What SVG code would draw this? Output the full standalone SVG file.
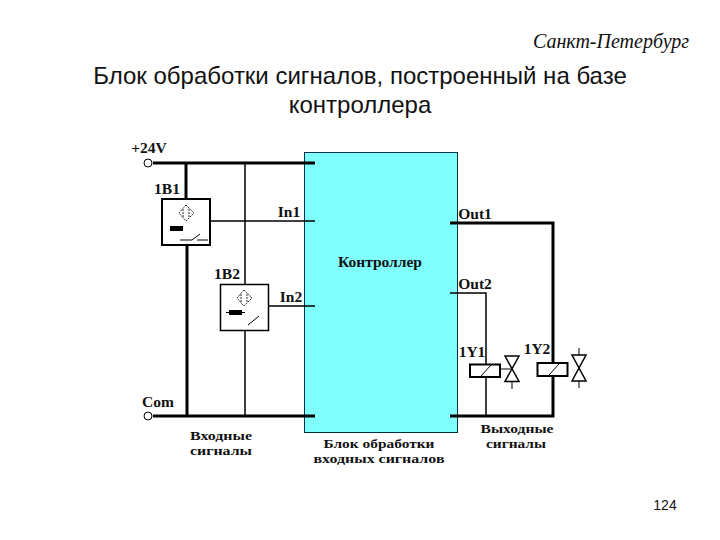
<svg xmlns="http://www.w3.org/2000/svg" width="720" height="540" viewBox="0 0 720 540">
<style>
.t{font-family:"Liberation Serif",serif;font-weight:bold;font-size:15.5px;fill:#111;text-anchor:middle}
.c{font-family:"Liberation Serif",serif;font-weight:bold;font-size:13px;fill:#111;text-anchor:middle}
.s{font-family:"Liberation Sans",Arial,sans-serif;font-size:24px;fill:#111;text-anchor:middle}
.k{stroke:#000;stroke-width:3;fill:none}
.n{stroke:#000;stroke-width:1.5;fill:none}
.v{stroke:#000;stroke-width:2;fill:#fff}
</style>
<rect width="720" height="540" fill="#fff"/>
<text x="611" y="48" style="font-family:'Liberation Serif',serif;font-style:italic;font-size:20px;fill:#111;text-anchor:middle">Санкт-Петербург</text>
<text class="s" x="360" y="84">Блок обработки сигналов, построенный на базе</text>
<text class="s" x="360" y="113">контроллера</text>
<g id="controller">
<rect x="304.500" y="152.500" width="153" height="280" fill="#80ffff" stroke="#003040" stroke-width="1"/>
<text class="t" x="380" y="267">Контроллер</text>
</g>
<g id="connectors">
<path class="k" d="M153 163H315M186 163V199M187 245V416M153 416H315"/>
<path class="n" d="M245 163V284M211 221H315M268 306H315M245 331V416"/>
<path class="k" d="M450 223H553V416H450"/>
<path class="n" d="M450 293H486V416"/>
</g>
<g id="terminal-24v">
<circle cx="148" cy="163" r="4" fill="#fff" stroke="#000"/>
<text class="t" x="149" y="153">+24V</text>
</g>
<g id="terminal-com">
<circle cx="148" cy="416" r="4" fill="#fff" stroke="#000"/>
<text class="t" x="158" y="407">Com</text>
</g>
<g id="sensor-1b1">
<rect x="162" y="199" width="48" height="46" fill="#fff" stroke="#000" stroke-width="2"/>
<path d="M186 205L194 213L186 221L179 213ZM183 209V217M189 209V217" fill="none" stroke="#333" stroke-dasharray="2 1"/>
<rect x="170" y="226" width="13" height="5" fill="#000"/>
<path d="M180 240H192L200 234M197 240H208" fill="none" stroke="#000"/>
<text class="t" x="167" y="194">1B1</text>
<text class="t" x="289" y="217">In1</text>
</g>
<g id="sensor-1b2">
<rect x="220.500" y="284.500" width="48" height="46" fill="#fff" stroke="#000" stroke-width="1.500"/>
<path d="M244 290L252 298L244 306L237 298ZM241 294V302M247 294V302" fill="none" stroke="#333" stroke-dasharray="2 1"/>
<rect x="229" y="310" width="13" height="5" fill="#000"/>
<path d="M226 312.500H245M248 325L259 316" fill="none" stroke="#000"/>
<text class="t" x="227" y="279">1B2</text>
<text class="t" x="291" y="302">In2</text>
</g>
<g id="coil-1y1">
<rect x="470" y="364.500" width="30" height="12.500" class="v"/>
<path d="M481 376L491 365M500 369H511M512 381V389" fill="none" stroke="#000"/>
<path d="M505 356H519L505 381.500H519Z" fill="#fff" stroke="#000" stroke-width="1.500"/>
<text class="t" x="472" y="357">1Y1</text>
</g>
<g id="coil-1y2">
<rect x="537.500" y="363" width="30" height="13" class="v"/>
<path d="M549 375L559 364M579 348V355M579 381V388" fill="none" stroke="#000"/>
<path d="M572 355H586L572 381H586Z" fill="#fff" stroke="#000" stroke-width="1.500"/>
<text class="t" x="537" y="354">1Y2</text>
</g>
<g id="labels">
<text class="t" x="475" y="219">Out1</text>
<text class="t" x="475" y="289">Out2</text>
<text class="c" x="221" y="440" textLength="62" lengthAdjust="spacingAndGlyphs">Входные</text>
<text class="c" x="221" y="455" textLength="62" lengthAdjust="spacingAndGlyphs">сигналы</text>
<text class="c" x="517" y="433" textLength="73" lengthAdjust="spacingAndGlyphs">Выходные</text>
<text class="c" x="516" y="448" textLength="60" lengthAdjust="spacingAndGlyphs">сигналы</text>
<text class="c" x="379" y="448" textLength="111" lengthAdjust="spacingAndGlyphs">Блок обработки</text>
<text class="c" x="379" y="463" textLength="131" lengthAdjust="spacingAndGlyphs">входных сигналов</text>
</g>
<text x="665" y="510" style="font-family:'Liberation Sans',sans-serif;font-size:14px;fill:#111;text-anchor:middle">124</text>
</svg>
